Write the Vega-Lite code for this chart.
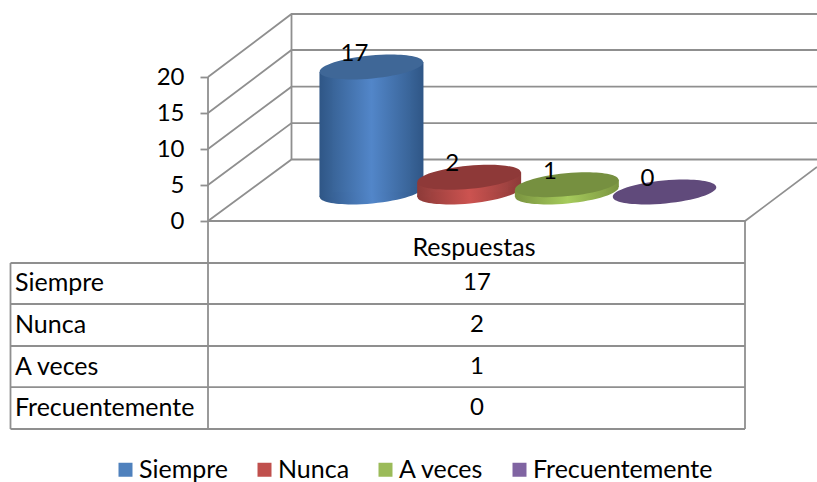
{
"$schema":"https://vega.github.io/schema/vega-lite/v6.json",
"width":817,"height":482,"padding":0,
"autosize":{"type":"fit","contains":"padding"},
"background":"white",
"config":{"view":{"stroke":null},"font":"Lato","text":{"font":"Lato"}},
"datasets":{
"responses":[
{"categoria":"Siempre","respuestas":17},
{"categoria":"Nunca","respuestas":2},
{"categoria":"A veces","respuestas":1},
{"categoria":"Frecuentemente","respuestas":0}],
"frame":[
{"s":"w20","x":208,"y":20},{"s":"w20","x":291.5,"y":28.75},{"s":"w20","x":817,"y":28.75},
{"s":"w15","x":208,"y":15},{"s":"w15","x":291.5,"y":23.75},{"s":"w15","x":817,"y":23.75},
{"s":"w10","x":208,"y":10},{"s":"w10","x":291.5,"y":18.65},{"s":"w10","x":817,"y":18.65},
{"s":"w5","x":208,"y":5},{"s":"w5","x":291.5,"y":13.6},{"s":"w5","x":817,"y":13.6},
{"s":"w0","x":208,"y":0},{"s":"w0","x":291.5,"y":8.54},{"s":"w0","x":817,"y":8.54},
{"s":"back","x":291.5,"y":8.54},{"s":"back","x":291.5,"y":28.75},
{"s":"floor","x":208,"y":0},{"s":"floor","x":745,"y":0},{"s":"floor","x":817,"y":7.5},
{"s":"t1","x":10.5,"y":-5.83},{"s":"t1","x":745,"y":-5.83},
{"s":"t2","x":10.5,"y":-11.53},{"s":"t2","x":745,"y":-11.53},
{"s":"t3","x":10.5,"y":-17.36},{"s":"t3","x":745,"y":-17.36},
{"s":"t4","x":10.5,"y":-23.06},{"s":"t4","x":745,"y":-23.06},
{"s":"t5","x":10.5,"y":-28.89},{"s":"t5","x":745,"y":-28.89},
{"s":"v1","x":10.5,"y":-5.83},{"s":"v1","x":10.5,"y":-28.89},
{"s":"v2","x":208,"y":0},{"s":"v2","x":208,"y":-28.89},
{"s":"v2b","x":208,"y":0},{"s":"v2b","x":208,"y":20},
{"s":"v3","x":745,"y":0},{"s":"v3","x":745,"y":-28.89}]
},
"layer":[
{"data":{"name":"frame"},
 "mark":{"type":"line","color":"#8f8f8f","strokeWidth":1.8,"clip":false},
 "encoding":{
  "x":{"field":"x","type":"quantitative","scale":{"domain":[0,817],"range":[0,817],"nice":false,"zero":false},"axis":null},
  "y":{"field":"y","type":"quantitative","scale":{"domain":[0,20],"range":[221,77],"nice":false,"zero":false},
   "axis":{"title":null,"values":[0,5,10,15,20],"offset":-208,"grid":false,"domain":false,"ticks":true,"tickSize":8,"tickColor":"#8f8f8f","tickWidth":1.8,"labelFontSize":24,"labelFont":"Lato","labelColor":"#000000","labelPadding":16}},
  "detail":{"field":"s"},
  "order":{"field":"x"}
 }},
{"data":{"name":"responses"},
 "encoding":{
  "x":{"field":"categoria","type":"nominal","scale":{"type":"band","domain":["Siempre","Nunca","A veces","Frecuentemente"],"range":[322.6,713.4],"paddingInner":0,"paddingOuter":0},"axis":null},
  "y":{"field":"respuestas","type":"quantitative","scale":{"domain":[0,20],"range":[192,45],"nice":false,"zero":false},"axis":null}
 },
 "layer":[
  {"mark":{"type":"bar","width":78},
   "encoding":{"fill":{"field":"categoria","type":"nominal","scale":{"domain":["Siempre","Nunca","A veces","Frecuentemente"],"range":["#4f81bd","#c0504d","#9bbb59","#8064a2"]},
    "legend":{"title":null,"orient":"none","legendX":113,"legendY":457,"direction":"horizontal","columns":4,"gridAlign":"each","symbolType":"square","symbolSize":196,"symbolStrokeWidth":0,"labelFontSize":25,"labelFont":"Lato","labelColor":"#000000","labelOffset":1,"labelLimit":400,"columnPadding":23}}}},
  {"transform":[{"filter":"datum.categoria==='Siempre'"}],
   "layer":[
    {"mark":{"type":"point","filled":true,"opacity":1,"size":10816,"angle":-5.5,"shape":"M-1,0A1,0.221,0,1,1,1,0A1,0.221,0,1,1,-1,0Z","fill":{"gradient":"linear","x1":0,"y1":0,"x2":1,"y2":0,"stops":[{"offset":0,"color":"#2f5686"},{"offset":0.5,"color":"#5286c9"},{"offset":1,"color":"#2f5686"}]}},
     "encoding":{"y":{"datum":0,"type":"quantitative"}}},
    {"mark":{"type":"bar","width":14,"xOffset":-45,"yOffset":5,"y2Offset":5,"fill":{"gradient":"linear","x1":0,"y1":0,"x2":1,"y2":0,"stops":[{"offset":0,"color":"#2f5686"},{"offset":1,"color":"#396498"}]}}},
    {"mark":{"type":"bar","width":14,"xOffset":45,"yOffset":-5,"y2Offset":-5,"fill":{"gradient":"linear","x1":0,"y1":0,"x2":1,"y2":0,"stops":[{"offset":0,"color":"#396498"},{"offset":1,"color":"#2f5686"}]}}},
    {"mark":{"type":"bar","width":78,"fill":{"gradient":"linear","x1":0,"y1":0,"x2":1,"y2":0,"stops":[{"offset":0,"color":"#396498"},{"offset":0.5,"color":"#5286c9"},{"offset":1,"color":"#396498"}]}}}
   ]},
  {"transform":[{"filter":"datum.categoria==='Nunca'"}],
   "layer":[
    {"mark":{"type":"point","filled":true,"opacity":1,"size":10816,"angle":-5.5,"shape":"M-1,0A1,0.221,0,1,1,1,0A1,0.221,0,1,1,-1,0Z","fill":{"gradient":"linear","x1":0,"y1":0,"x2":1,"y2":0,"stops":[{"offset":0,"color":"#8d3a38"},{"offset":0.5,"color":"#cc5350"},{"offset":1,"color":"#8d3a38"}]}},
     "encoding":{"y":{"datum":0,"type":"quantitative"}}},
    {"mark":{"type":"bar","width":14,"xOffset":-45,"yOffset":5,"y2Offset":5,"fill":{"gradient":"linear","x1":0,"y1":0,"x2":1,"y2":0,"stops":[{"offset":0,"color":"#8d3a38"},{"offset":1,"color":"#9e4240"}]}}},
    {"mark":{"type":"bar","width":14,"xOffset":45,"yOffset":-5,"y2Offset":-5,"fill":{"gradient":"linear","x1":0,"y1":0,"x2":1,"y2":0,"stops":[{"offset":0,"color":"#9e4240"},{"offset":1,"color":"#8d3a38"}]}}},
    {"mark":{"type":"bar","width":78,"fill":{"gradient":"linear","x1":0,"y1":0,"x2":1,"y2":0,"stops":[{"offset":0,"color":"#9e4240"},{"offset":0.5,"color":"#cc5350"},{"offset":1,"color":"#9e4240"}]}}}
   ]},
  {"transform":[{"filter":"datum.categoria==='A veces'"}],
   "layer":[
    {"mark":{"type":"point","filled":true,"opacity":1,"size":10816,"angle":-5.5,"shape":"M-1,0A1,0.221,0,1,1,1,0A1,0.221,0,1,1,-1,0Z","fill":{"gradient":"linear","x1":0,"y1":0,"x2":1,"y2":0,"stops":[{"offset":0,"color":"#7a9440"},{"offset":0.5,"color":"#a6cb5c"},{"offset":1,"color":"#7a9440"}]}},
     "encoding":{"y":{"datum":0,"type":"quantitative"}}},
    {"mark":{"type":"bar","width":14,"xOffset":-45,"yOffset":5,"y2Offset":5,"fill":{"gradient":"linear","x1":0,"y1":0,"x2":1,"y2":0,"stops":[{"offset":0,"color":"#7a9440"},{"offset":1,"color":"#86a348"}]}}},
    {"mark":{"type":"bar","width":14,"xOffset":45,"yOffset":-5,"y2Offset":-5,"fill":{"gradient":"linear","x1":0,"y1":0,"x2":1,"y2":0,"stops":[{"offset":0,"color":"#86a348"},{"offset":1,"color":"#7a9440"}]}}},
    {"mark":{"type":"bar","width":78,"fill":{"gradient":"linear","x1":0,"y1":0,"x2":1,"y2":0,"stops":[{"offset":0,"color":"#86a348"},{"offset":0.5,"color":"#a6cb5c"},{"offset":1,"color":"#86a348"}]}}}
   ]},
  {"mark":{"type":"point","filled":true,"opacity":1,"size":10816,"angle":-5.5,"shape":"M-1,0A1,0.221,0,1,1,1,0A1,0.221,0,1,1,-1,0Z"},
   "encoding":{"fill":{"field":"categoria","type":"nominal","legend":null,"scale":{"domain":["Siempre","Nunca","A veces","Frecuentemente"],"range":["#3f6797","#8e3938","#769040","#604a7b"]}}}},
  {"mark":{"type":"text","fontSize":24,"font":"Lato","color":"#000000","dx":-17,"dy":-13,"baseline":"middle"},
   "encoding":{"text":{"field":"respuestas","type":"quantitative"}}}
 ],
 "resolve":{"scale":{"fill":"independent"}}},
{"data":{"name":"responses"},
 "encoding":{
  "x":{"datum":"value","type":"nominal","scale":{"type":"band","domain":["label","value"],"range":[-216,708],"paddingInner":0,"paddingOuter":0},"axis":null},
  "y":{"field":"categoria","type":"nominal","scale":{"type":"band","domain":["Respuestas","Siempre","Nunca","A veces","Frecuentemente"],"range":[221,429],"paddingInner":0,"paddingOuter":0},"axis":null}
 },
 "layer":[
  {"mark":{"type":"text","fontSize":24,"font":"Lato","color":"#000000","align":"center","baseline":"middle"},
   "encoding":{"text":{"field":"respuestas","type":"quantitative"}}},
  {"mark":{"type":"text","fontSize":25,"font":"Lato","color":"#000000","align":"left","baseline":"middle"},
   "encoding":{"x":{"datum":"label","type":"nominal"},"text":{"field":"categoria","type":"nominal"}}},
  {"data":{"values":[{"columna":"Respuestas"}]},
   "mark":{"type":"text","fontSize":25,"font":"Lato","color":"#000000","align":"center","baseline":"middle","dx":-3,"dy":6},
   "encoding":{"y":{"field":"columna","type":"nominal"},"text":{"field":"columna","type":"nominal"}}}
 ]}
],
"resolve":{"scale":{"x":"independent","y":"independent"}}
}
